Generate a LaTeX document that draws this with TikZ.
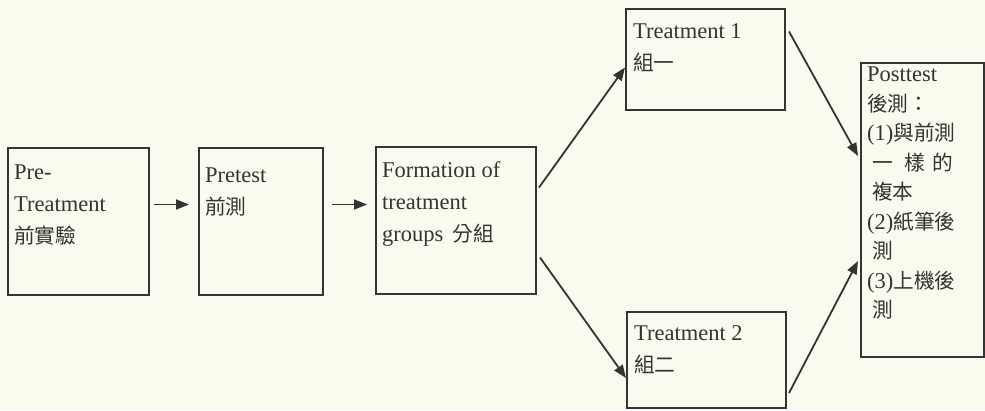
\documentclass[tikz,border=0pt]{standalone}
\usepackage{fontspec}
\setmainfont{Liberation Serif}
\newfontfamily\cjk{Noto Sans CJK TC}[Scale=0.92]
\usetikzlibrary{arrows.meta}
\definecolor{bgc}{RGB}{251,250,238}
\definecolor{ink}{RGB}{52,52,50}
\tikzset{
  box/.style={draw=ink, line width=2pt, anchor=north west, inner sep=0pt},
  txt/.style={anchor=north west, inner sep=0pt, align=left, text=ink,
    font=\fontsize{22.5}{32}\selectfont},
  arr/.style={draw=ink, line width=1.8pt, -{Triangle[length=13pt,width=10pt]}},
}
\begin{document}
\begin{tikzpicture}[x=1pt,y=-1pt]
\fill[bgc] (0,0) rectangle (985,410);
\useasboundingbox (0,0) rectangle (985,410);
% boxes
\node[box, minimum width=141pt, minimum height=147pt] (b1) at (7,147) {};
\node[box, minimum width=124pt, minimum height=147pt] (b2) at (198,147) {};
\node[box, minimum width=160pt, minimum height=147pt] (b3) at (375,146) {};
\node[box, minimum width=159pt, minimum height=101pt] (t1) at (625,8) {};
\node[box, minimum width=159pt, minimum height=96pt] (t2) at (626,311) {};
\node[box, minimum width=123pt, minimum height=294pt] (pt) at (860,62) {};
% texts
\node[txt] (x1) at (14,165) {Pre-\\Treatment\\{\cjk 前實驗}};
\node[txt] (x2) at (205,168) {Pretest\\{\cjk 前測}};
\node[txt] (x3) at (382,161) {Formation of\\treatment\\groups\hspace{9pt}{\cjk 分組}};
\node[txt] (x4) at (633,23) {Treatment 1\\{\cjk 組一}};
\node[txt] (x5) at (634,325) {Treatment 2\\{\cjk 組二}};
\node[txt, font=\fontsize{22.5}{29.5}\selectfont] (x6) at (867,67)
  {Posttest\\{\cjk 後測：}\\(1){\cjk 與前測}\\\hspace*{5pt}{\cjk 一}\hspace{12pt}{\cjk 樣}\hspace{7pt}{\cjk 的}\\\hspace*{5pt}{\cjk 複本}\\(2){\cjk 紙筆後}\\\hspace*{5pt}{\cjk 測}\\(3){\cjk 上機後}\\\hspace*{5pt}{\cjk 測}};
% arrows
\draw[arr] ([xshift=4pt,yshift=17pt]b1.east) -- ([xshift=-9pt,yshift=17pt]b2.west);
\draw[arr] ([xshift=8pt,yshift=17pt]b2.east) -- ([xshift=-8pt,yshift=16pt]b3.west);
\draw[arr] ([xshift=2pt,yshift=33pt]b3.east) -- ([yshift=-8pt]t1.west);
\draw[arr] ([xshift=3pt,yshift=-37pt]b3.east) -- ([yshift=-18pt]t2.west);
\draw[arr] ([xshift=3pt,yshift=28pt]t1.east) -- ([xshift=-2pt,yshift=54pt]pt.west);
\draw[arr] ([xshift=2pt,yshift=-33pt]t2.east) -- ([xshift=-2pt,yshift=-51pt]pt.west);
\end{tikzpicture}
\end{document}
